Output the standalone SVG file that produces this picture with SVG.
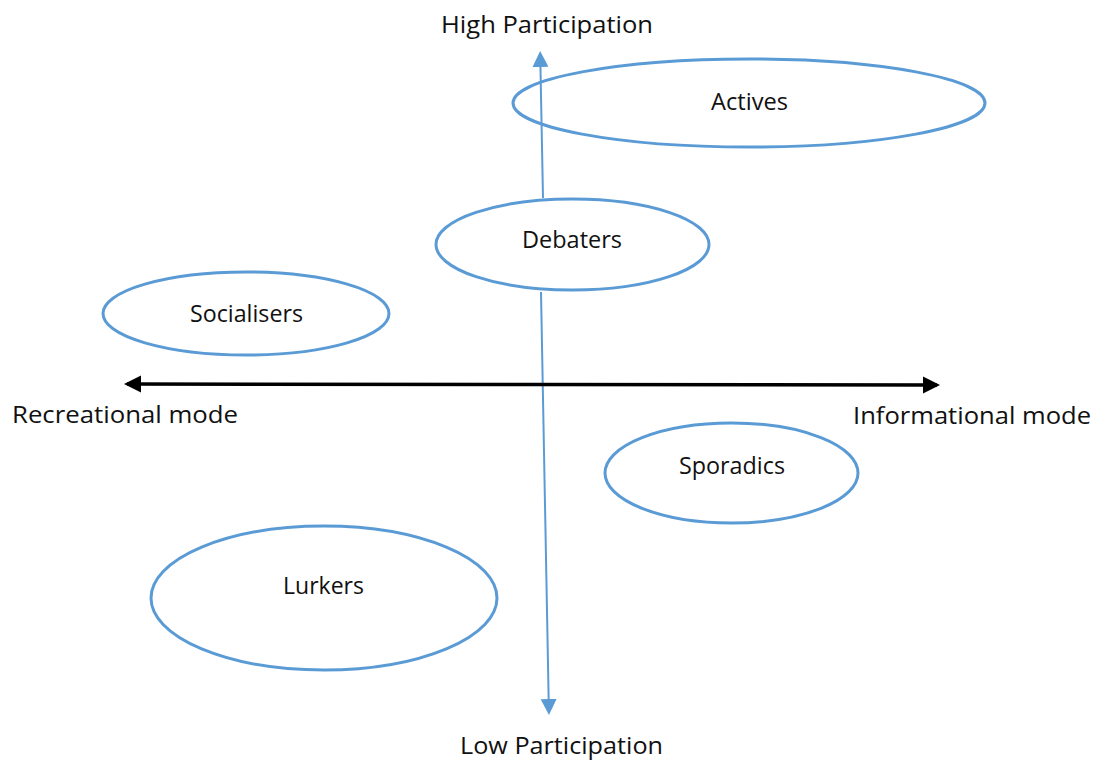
<svg xmlns="http://www.w3.org/2000/svg" width="1099" height="760" viewBox="0 0 1099 760">
<style>
.bg{fill:#ffffff}
.node ellipse{fill:#ffffff;stroke:#5B9BD5;stroke-width:3}
text{font-family:"Open Sans","Liberation Sans",sans-serif;font-size:24px;fill:#111111}
.blue{stroke:#5B9BD5;stroke-width:2;fill:none}
.black{stroke:#000000;stroke-width:3.5;fill:none}
</style>
<defs>
<marker id="ab" markerUnits="userSpaceOnUse" markerWidth="17" markerHeight="17" refX="13" refY="8" orient="auto">
<path d="M0,0 L16,8 L0,16 z" fill="#5B9BD5"/>
</marker>
<marker id="ak" markerUnits="userSpaceOnUse" markerWidth="18" markerHeight="18" refX="14" refY="8.5" orient="auto">
<path d="M0,0 L17,8.5 L0,17 z" fill="#000000"/>
</marker>
</defs>
<rect class="bg" x="0" y="0" width="1099" height="760"/>
<g id="actives" class="node">
<ellipse cx="749" cy="103" rx="236" ry="44"/>
<text x="711" y="110" textLength="77" lengthAdjust="spacingAndGlyphs">Actives</text>
</g>
<g id="debaters" class="node">
<ellipse cx="572.5" cy="244.5" rx="136.5" ry="45.5"/>
<text x="522" y="248" textLength="100" lengthAdjust="spacingAndGlyphs">Debaters</text>
</g>
<g id="socialisers" class="node">
<ellipse cx="246" cy="313.5" rx="143" ry="41.5"/>
<text x="190" y="322" textLength="113" lengthAdjust="spacingAndGlyphs">Socialisers</text>
</g>
<g id="sporadics" class="node">
<ellipse cx="731.5" cy="473" rx="126.5" ry="50"/>
<text x="679" y="474" textLength="106" lengthAdjust="spacingAndGlyphs">Sporadics</text>
</g>
<g id="lurkers" class="node">
<ellipse cx="324" cy="598" rx="173" ry="72"/>
<text x="283" y="594" textLength="81" lengthAdjust="spacingAndGlyphs">Lurkers</text>
</g>
<g id="connectors">
<line class="blue" x1="543" y1="198" x2="540.2" y2="54" marker-end="url(#ab)"/>
<line class="blue" x1="541" y1="292" x2="548.9" y2="712" marker-end="url(#ab)"/>
<line class="black" x1="530" y1="384.5" x2="127" y2="384" marker-end="url(#ak)"/>
<line class="black" x1="530" y1="384.5" x2="937" y2="385" marker-end="url(#ak)"/>
</g>
<g id="axis-labels">
<text x="441" y="33" textLength="212" lengthAdjust="spacingAndGlyphs">High Participation</text>
<text x="460" y="754" textLength="203" lengthAdjust="spacingAndGlyphs">Low Participation</text>
<text x="12" y="423" textLength="226" lengthAdjust="spacingAndGlyphs">Recreational mode</text>
<text x="853" y="424" textLength="238" lengthAdjust="spacingAndGlyphs">Informational mode</text>
</g>
</svg>
